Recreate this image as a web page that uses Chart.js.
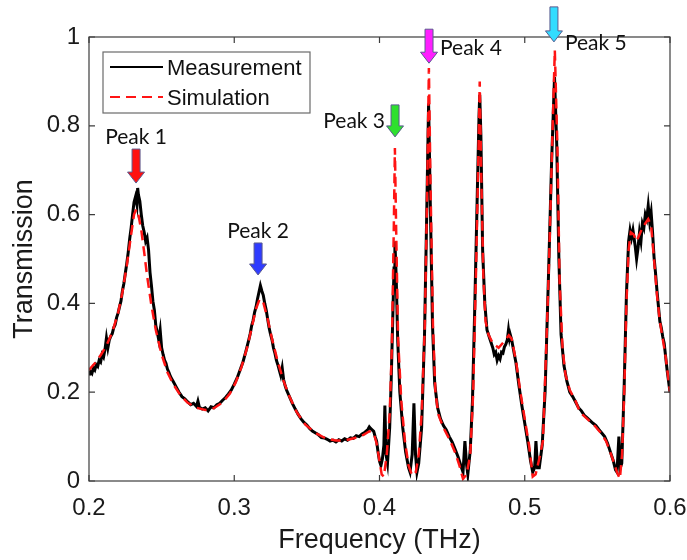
<!DOCTYPE html>
<html><head><meta charset="utf-8">
<script src="https://cdn.jsdelivr.net/npm/chart.js@4.4.0/dist/chart.umd.min.js"></script>
<style>html,body{margin:0;padding:0;background:#fff;}canvas{display:block}</style>
</head><body>
<canvas id="c" width="687" height="560"></canvas>
<script>
// ---------- data ----------
const seriesNames = ['Measurement', 'Simulation'];
const xTicks = [0.2, 0.3, 0.4, 0.5, 0.6];
const yTicks = [0, 0.2, 0.4, 0.6, 0.8, 1];

const simFreq = [0.200,0.204,0.208,0.212,0.216,0.220,0.223,0.226,0.229,0.231,0.2325,0.234,0.236,0.238,0.240,0.243,0.246,0.250,0.254,0.258,0.263,0.268,0.274,0.280,0.286,0.292,0.297,0.301,0.305,0.309,0.312,0.315,0.3175,0.320,0.323,0.326,0.330,0.334,0.338,0.343,0.349,0.356,0.363,0.370,0.377,0.383,0.389,0.393,0.396,0.398,0.400,0.4015,0.403,0.405,0.407,0.4085,0.4098,0.4106,0.4115,0.4128,0.415,0.4175,0.420,0.4225,0.425,0.427,0.429,0.4312,0.4328,0.434,0.4352,0.4368,0.4385,0.4405,0.444,0.448,0.452,0.455,0.4575,0.460,0.4625,0.4645,0.4665,0.468,0.469,0.470,0.4715,0.473,0.475,0.478,0.482,0.486,0.489,0.491,0.494,0.497,0.500,0.503,0.5055,0.5075,0.510,0.5125,0.5148,0.5168,0.5188,0.5207,0.5225,0.524,0.526,0.528,0.531,0.535,0.538,0.543,0.548,0.552,0.556,0.560,0.5635,0.5655,0.567,0.5685,0.570,0.5715,0.573,0.575,0.577,0.579,0.581,0.583,0.585,0.587,0.589,0.591,0.593,0.595,0.597,0.600];
const simT = [0.250,0.265,0.283,0.305,0.335,0.378,0.425,0.485,0.555,0.600,0.612,0.600,0.565,0.515,0.462,0.395,0.340,0.285,0.245,0.218,0.193,0.176,0.165,0.160,0.164,0.177,0.197,0.222,0.257,0.302,0.345,0.388,0.410,0.402,0.365,0.320,0.268,0.225,0.190,0.155,0.127,0.108,0.096,0.091,0.092,0.097,0.104,0.112,0.108,0.085,0.045,0.015,0.010,0.060,0.150,0.300,0.560,0.750,0.560,0.320,0.180,0.090,0.035,0.012,0.020,0.060,0.150,0.350,0.650,0.930,0.650,0.350,0.200,0.150,0.120,0.095,0.065,0.035,0.005,0.015,0.060,0.200,0.480,0.720,0.900,0.700,0.460,0.360,0.330,0.310,0.300,0.315,0.328,0.320,0.270,0.200,0.140,0.080,0.010,0.015,0.050,0.090,0.300,0.500,0.750,0.970,0.750,0.450,0.300,0.240,0.205,0.180,0.155,0.140,0.125,0.110,0.090,0.055,0.020,0.005,0.060,0.200,0.400,0.520,0.560,0.555,0.540,0.555,0.570,0.580,0.590,0.575,0.500,0.420,0.360,0.320,0.280,0.200];

const measFreq = [0.200,0.201,0.202,0.203,0.204,0.205,0.206,0.207,0.208,0.209,0.210,0.211,0.212,0.213,0.214,0.215,0.216,0.217,0.218,0.219,0.220,0.221,0.222,0.223,0.224,0.225,0.226,0.227,0.228,0.229,0.230,0.231,0.232,0.233,0.2335,0.234,0.235,0.236,0.237,0.238,0.239,0.240,0.241,0.242,0.243,0.244,0.245,0.246,0.247,0.248,0.249,0.250,0.251,0.252,0.253,0.254,0.255,0.256,0.257,0.258,0.260,0.262,0.264,0.266,0.268,0.270,0.272,0.274,0.275,0.276,0.278,0.280,0.282,0.284,0.286,0.288,0.290,0.292,0.294,0.296,0.298,0.300,0.302,0.304,0.306,0.308,0.310,0.311,0.312,0.313,0.314,0.315,0.316,0.317,0.318,0.319,0.320,0.321,0.322,0.323,0.324,0.325,0.326,0.327,0.328,0.329,0.330,0.331,0.332,0.333,0.334,0.335,0.336,0.338,0.340,0.342,0.344,0.346,0.348,0.350,0.352,0.354,0.356,0.358,0.360,0.362,0.364,0.366,0.368,0.370,0.372,0.374,0.376,0.378,0.380,0.382,0.384,0.386,0.388,0.390,0.392,0.393,0.394,0.396,0.397,0.398,0.399,0.400,0.401,0.402,0.403,0.4037,0.4045,0.4055,0.407,0.408,0.409,0.410,0.4106,0.4115,0.4125,0.414,0.416,0.418,0.420,0.421,0.4225,0.4237,0.4248,0.4258,0.427,0.429,0.431,0.4325,0.4338,0.435,0.4365,0.438,0.440,0.442,0.444,0.446,0.448,0.450,0.452,0.454,0.456,0.4575,0.4588,0.4600,0.4608,0.4625,0.464,0.4655,0.467,0.4685,0.469,0.4698,0.471,0.4725,0.474,0.476,0.478,0.479,0.480,0.481,0.482,0.483,0.484,0.485,0.486,0.487,0.488,0.4888,0.4895,0.490,0.491,0.492,0.494,0.496,0.498,0.500,0.502,0.504,0.5055,0.5068,0.5077,0.5088,0.510,0.512,0.514,0.5165,0.5185,0.5205,0.522,0.5235,0.525,0.527,0.529,0.531,0.533,0.535,0.537,0.539,0.541,0.543,0.545,0.547,0.549,0.551,0.553,0.555,0.557,0.559,0.561,0.5625,0.5635,0.5648,0.5658,0.5668,0.5685,0.570,0.5715,0.5725,0.5735,0.5745,0.576,0.577,0.578,0.579,0.580,0.581,0.582,0.583,0.584,0.585,0.586,0.587,0.588,0.589,0.590,0.591,0.592,0.593,0.594,0.595,0.596,0.597,0.598,0.599,0.600];
const measT = [0.238,0.246,0.242,0.255,0.250,0.262,0.258,0.272,0.268,0.285,0.279,0.296,0.322,0.300,0.318,0.326,0.332,0.345,0.352,0.368,0.378,0.392,0.405,0.428,0.445,0.468,0.490,0.515,0.545,0.570,0.600,0.628,0.640,0.622,0.660,0.645,0.630,0.600,0.575,0.560,0.540,0.548,0.520,0.470,0.440,0.405,0.385,0.350,0.335,0.318,0.340,0.300,0.285,0.272,0.265,0.252,0.245,0.236,0.230,0.224,0.212,0.200,0.190,0.185,0.178,0.172,0.175,0.168,0.180,0.166,0.162,0.165,0.158,0.167,0.165,0.172,0.175,0.182,0.188,0.196,0.205,0.218,0.232,0.250,0.268,0.292,0.318,0.332,0.350,0.362,0.380,0.392,0.410,0.425,0.440,0.428,0.418,0.400,0.385,0.365,0.345,0.330,0.318,0.300,0.288,0.272,0.262,0.250,0.238,0.255,0.228,0.215,0.205,0.190,0.175,0.162,0.150,0.140,0.132,0.126,0.118,0.112,0.108,0.104,0.098,0.097,0.094,0.090,0.092,0.088,0.093,0.090,0.095,0.092,0.097,0.096,0.102,0.100,0.106,0.110,0.116,0.122,0.118,0.112,0.100,0.090,0.065,0.045,0.035,0.050,0.080,0.170,0.060,0.040,0.120,0.220,0.350,0.480,0.540,0.460,0.320,0.200,0.120,0.065,0.030,0.020,0.060,0.175,0.060,0.020,0.040,0.120,0.330,0.600,0.850,0.620,0.350,0.220,0.165,0.140,0.125,0.115,0.100,0.088,0.072,0.055,0.035,0.020,0.090,0.035,0.015,0.070,0.180,0.380,0.600,0.820,0.870,0.780,0.520,0.400,0.340,0.320,0.300,0.285,0.290,0.272,0.282,0.275,0.290,0.288,0.302,0.308,0.318,0.340,0.322,0.330,0.318,0.300,0.265,0.215,0.170,0.130,0.090,0.045,0.020,0.030,0.090,0.030,0.030,0.080,0.200,0.480,0.720,0.910,0.760,0.500,0.330,0.260,0.225,0.200,0.190,0.178,0.165,0.158,0.148,0.142,0.136,0.130,0.125,0.116,0.108,0.100,0.085,0.065,0.045,0.025,0.020,0.100,0.030,0.040,0.220,0.420,0.540,0.565,0.548,0.565,0.530,0.500,0.525,0.560,0.540,0.580,0.570,0.600,0.590,0.620,0.585,0.605,0.560,0.505,0.470,0.430,0.395,0.360,0.345,0.325,0.310,0.280,0.250,0.225,0.200];

const peakNames = ['Peak 1', 'Peak 2', 'Peak 3', 'Peak 4', 'Peak 5'];
const peakFreq = [0.2324, 0.3164, 0.4107, 0.4341, 0.5201];
const peakTip = [0.671, 0.464, 0.775, 0.941, 0.989];

// ---------- styles / layout ----------
const peakColors = ['#ff1010', '#2f3cff', '#2ee02e', '#ff1eff', '#33dcff'];
const peakLabelPlace = ['above', 'above', 'left', 'right', 'rightBelow'];
const arrowLen = [34, 32, 32, 34, 35];
const AXIS_FONT = '"Liberation Sans", Arial, Helvetica, sans-serif';
const PEAK_FONT = 'Lato, "Open Sans", sans-serif';

const toXY = (xs, ys) => xs.map((v, i) => ({x: v, y: ys[i]}));

function drawArrow(ctx, cx, tipY, len, color) {
  const sw = 4, hw = 8.5, hl = 11;
  ctx.beginPath();
  ctx.moveTo(cx - sw, tipY - len);
  ctx.lineTo(cx + sw, tipY - len);
  ctx.lineTo(cx + sw, tipY - hl);
  ctx.lineTo(cx + hw, tipY - hl);
  ctx.lineTo(cx, tipY);
  ctx.lineTo(cx - hw, tipY - hl);
  ctx.lineTo(cx - sw, tipY - hl);
  ctx.closePath();
  ctx.fillStyle = color;
  ctx.fill();
  ctx.strokeStyle = '#5b5b8f';
  ctx.lineWidth = 1;
  ctx.stroke();
}

const deco = {
  id: 'deco',
  afterDraw(chart) {
    const {ctx, chartArea: a, scales: {x, y}} = chart;
    ctx.save();
    // frame
    ctx.strokeStyle = '#3c3c3c';
    ctx.lineWidth = 1.2;
    ctx.strokeRect(a.left, a.top, a.right - a.left, a.bottom - a.top);
    // inward ticks on all sides
    const tl = 6;
    ctx.beginPath();
    xTicks.forEach(v => {
      const px = x.getPixelForValue(v);
      ctx.moveTo(px, a.bottom); ctx.lineTo(px, a.bottom - tl);
      ctx.moveTo(px, a.top); ctx.lineTo(px, a.top + tl);
    });
    yTicks.forEach(v => {
      const py = y.getPixelForValue(v);
      ctx.moveTo(a.left, py); ctx.lineTo(a.left + tl, py);
      ctx.moveTo(a.right, py); ctx.lineTo(a.right - tl, py);
    });
    ctx.stroke();

    // legend
    const lx = a.left + 14, ly = a.top + 15, lw = 207, lh = 61;
    ctx.fillStyle = '#fff';
    ctx.fillRect(lx, ly, lw, lh);
    ctx.strokeStyle = '#6a6a6a';
    ctx.lineWidth = 1.2;
    ctx.strokeRect(lx, ly, lw, lh);
    const ds = chart.data.datasets;
    const rows = [ly + 15, ly + 45];
    [0, 1].forEach(i => {
      ctx.beginPath();
      ctx.strokeStyle = ds[i].borderColor;
      ctx.lineWidth = 2.2;
      ctx.setLineDash(ds[i].borderDash || []);
      ctx.moveTo(lx + 7, rows[i]);
      ctx.lineTo(lx + 60, rows[i]);
      ctx.stroke();
      ctx.setLineDash([]);
      ctx.fillStyle = '#111';
      ctx.font = '22px ' + AXIS_FONT;
      ctx.textAlign = 'left';
      ctx.textBaseline = 'middle';
      ctx.fillText(seriesNames[i], lx + 64, rows[i] + 2);
    });

    // arrows + peak labels
    ctx.font = '21px ' + PEAK_FONT;
    ctx.fillStyle = '#111';
    ctx.textBaseline = 'alphabetic';
    peakNames.forEach((name, i) => {
      const cx = x.getPixelForValue(peakFreq[i]);
      const ty = y.getPixelForValue(peakTip[i]);
      drawArrow(ctx, cx, ty, arrowLen[i], peakColors[i]);
      ctx.fillStyle = '#111';
      const p = peakLabelPlace[i];
      if (p === 'above') { ctx.textAlign = 'center'; ctx.fillText(name, cx, ty - arrowLen[i] - 5); }
      else if (p === 'left') { ctx.textAlign = 'right'; ctx.fillText(name, cx - 10, ty - 9); }
      else if (p === 'right') { ctx.textAlign = 'left'; ctx.fillText(name, cx + 11, ty - 8); }
      else { ctx.textAlign = 'left'; ctx.fillText(name, cx + 11, ty + 8); }
    });
    ctx.restore();
  }
};

new Chart(document.getElementById('c'), {
  type: 'line',
  data: {
    datasets: [
      {label: seriesNames[0], data: toXY(measFreq, measT), borderColor: '#000000', borderWidth: 3,
       pointRadius: 0, tension: 0, order: 1},
      {label: seriesNames[1], data: toXY(simFreq, simT), borderColor: '#ff1414', borderWidth: 2.5,
       borderDash: [10, 6], pointRadius: 0, tension: 0, order: 0}
    ]
  },
  options: {
    responsive: false, animation: false, devicePixelRatio: 1,
    layout: {padding: {top: 37, right: 17, left: 0, bottom: 0}},
    plugins: {legend: {display: false}, tooltip: {enabled: false}},
    scales: {
      x: {
        type: 'linear', min: 0.2, max: 0.6,
        afterBuildTicks: s => { s.ticks = xTicks.map(v => ({value: v})); },
        afterFit: s => { s.height = 79; s.paddingLeft = 0; s.paddingRight = 0; },
        grid: {display: false, drawTicks: false}, border: {display: false},
        ticks: {padding: 13, color: '#1a1a1a', font: {size: 24, family: AXIS_FONT},
                callback: v => String(Number(v.toFixed(1)))},
        title: {display: true, text: 'Frequency (THz)', color: '#1a1a1a', padding: {top: 0, bottom: 3},
                font: {size: 27, family: AXIS_FONT}}
      },
      y: {
        type: 'linear', min: 0, max: 1,
        afterBuildTicks: s => { s.ticks = yTicks.map(v => ({value: v})); },
        afterFit: s => { s.width = 89; s.paddingTop = 0; s.paddingBottom = 0; },
        grid: {display: false, drawTicks: false}, border: {display: false},
        ticks: {padding: 9, color: '#1a1a1a', font: {size: 24, family: AXIS_FONT},
                callback: v => String(Number(v.toFixed(1)))},
        title: {display: true, text: 'Transmission', color: '#1a1a1a', padding: {top: 8, bottom: 0},
                font: {size: 27, family: AXIS_FONT}}
      }
    }
  },
  plugins: [deco]
});
</script>
</body></html>
